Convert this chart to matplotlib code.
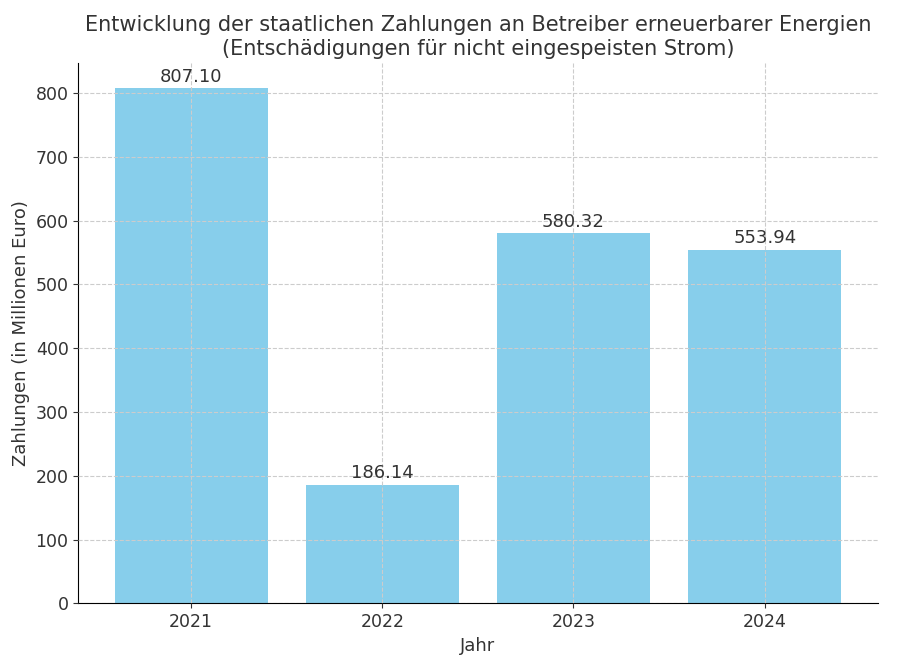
import matplotlib.pyplot as plt

# data
years = ['2021', '2022', '2023', '2024']
payments = [807.10, 186.14, 580.32, 553.94]

plt.rcParams['text.color'] = '#333333'
plt.rcParams['axes.labelcolor'] = '#333333'
plt.rcParams['xtick.color'] = '#333333'
plt.rcParams['ytick.color'] = '#333333'

fig = plt.figure(figsize=(9, 6.63), dpi=100)
ax = fig.add_axes([0.087, 0.09, 0.888, 0.815])

bars = ax.bar(years, payments, color='skyblue', width=0.8)
for b, v in zip(bars, payments):
    ax.text(b.get_x() + b.get_width() / 2, v + 4, '%.2f' % v,
            ha='center', va='bottom', fontsize=13)

ax.set_ylim(0, 847)
ax.set_axisbelow(False)
ax.grid(True, linestyle='--', color='#cccccc', linewidth=0.8)
ax.spines['top'].set_visible(False)
ax.spines['right'].set_visible(False)
ax.tick_params(labelsize=12.5)

ax.set_xlabel('Jahr', fontsize=13)
ax.set_ylabel('Zahlungen (in Millionen Euro)', fontsize=13)
ax.set_title('Entwicklung der staatlichen Zahlungen an Betreiber erneuerbarer Energien\n'
             '(Entschädigungen für nicht eingespeisten Strom)', fontsize=15)

fig.savefig('out.png', dpi=100)
